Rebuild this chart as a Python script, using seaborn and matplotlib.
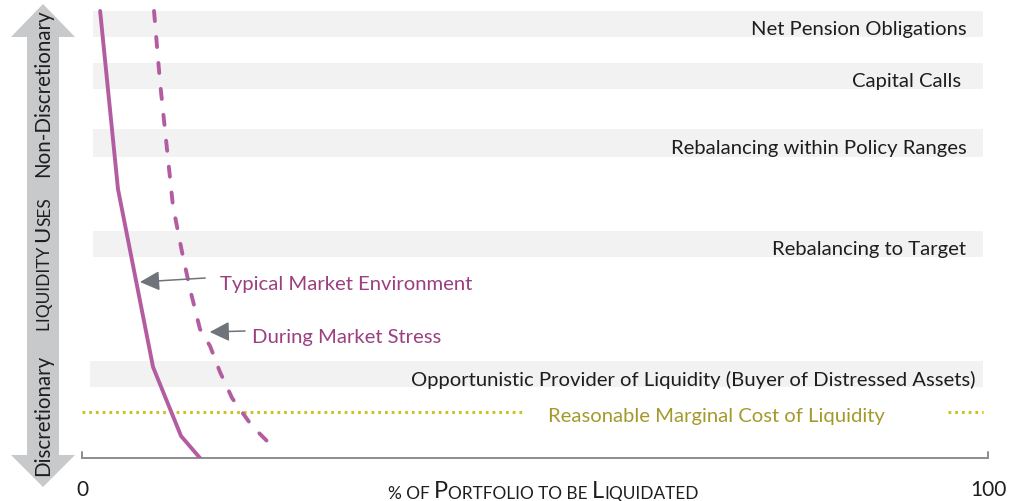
import numpy as np
import pandas as pd
import seaborn as sns
from matplotlib import pyplot as plt
from matplotlib.patches import Polygon

# Curves: x = % of portfolio liquidated, y = liquidity use level (0 = axis)
typical_x = [2.0, 3.97, 7.84, 10.93, 13.02]
typical_y = [447, 269, 91, 22, 0]
stress_x = [7.95, 8.61, 9.38, 10.04, 11.04, 11.92, 13.02, 14.13, 15.23, 16.56, 18.76, 20.97]
stress_y = [447, 376, 309, 252, 206, 169, 129, 112, 86, 60, 32, 12]

# Liquidity uses (grey bands)
band_labels = [
    "Net Pension Obligations",
    "Capital Calls ",
    "Rebalancing within Policy Ranges",
    "Rebalancing to Target",
    "Opportunistic Provider of Liquidity (Buyer of Distressed Assets)",
]
band_low = [421, 369, 301, 201, 71]
band_high = [447, 395, 329, 227, 97]

cost_level = 46
cost_label = "Reasonable Marginal Cost of Liquidity"

x_ticks = [0, 100]

LINE = "#b35da0"
NOTE = "#9b3f80"
GREY_ARROW = "#6e7479"
YELLOW = "#cbc323"
OLIVE = "#a49a2c"
TXT = "#1e1e1e"
FS = 14.6

sns.set_theme(style="white")
plt.rcParams["font.family"] = ["Lato", "DejaVu Sans"]

W, H = 1014, 502
fig = plt.figure(figsize=(W / 100, H / 100), dpi=100)
ax = fig.add_axes([82 / W, (H - 459) / H, 906 / W, 459 / H])
ax.set_xlim(0, 100)
ax.set_ylim(0, 459)
ax.axis("off")

# grey bands + labels
for i, (lab, lo, hi) in enumerate(zip(band_labels, band_low, band_high)):
    x0 = 0.9 if i == len(band_labels) - 1 else 1.2
    ax.fill_between([x0, 99.45], lo, hi, color="#f2f2f2", lw=0, zorder=0)
    ax.text(97.6 if i != 4 else 98.6, (lo + hi) / 2 - 5, lab, ha="right", va="center",
            fontsize=FS, color=TXT)

# marginal cost line (dotted, broken around the label)
ax.plot([0, 48.9], [cost_level, cost_level], color=YELLOW, lw=2.2,
        linestyle=(0, (0.9, 1.3)), zorder=1)
ax.plot([95.6, 99.4], [cost_level, cost_level], color=YELLOW, lw=2.2,
        linestyle=(0, (0.9, 1.3)), zorder=1)
ax.text(70.0, cost_level - 4, cost_label, ha="center", va="center", fontsize=FS, color=OLIVE)

# curves
curves = pd.concat([
    pd.DataFrame({"pct": typical_x, "use": typical_y, "env": "Typical Market Environment"}),
    pd.DataFrame({"pct": stress_x, "use": stress_y, "env": "During Market Stress"}),
])
sns.lineplot(data=curves, x="pct", y="use", hue="env", style="env", sort=False,
             palette=[LINE, LINE], dashes=[(None, None), (2.6, 4.1)], lw=2.8,
             dash_capstyle="round", legend=False, ax=ax, estimator=None, zorder=3)

# callouts
arrow_kw = dict(arrowstyle="-|>,head_length=0.5,head_width=0.25", color=GREY_ARROW,
                lw=1.1, mutation_scale=24, shrinkA=0, shrinkB=0)
ax.annotate("", xy=(6.4, 176), xytext=(13.6, 180), arrowprops=arrow_kw)
ax.text(15.2, 174, "Typical Market Environment", ha="left", va="center", fontsize=FS, color=NOTE)
ax.annotate("", xy=(14.1, 126), xytext=(18.0, 127), arrowprops=arrow_kw)
ax.text(18.8, 121, "During Market Stress", ha="left", va="center", fontsize=FS, color=NOTE)

# x axis with end ticks
ax.plot([0, 100], [0, 0], color="#8c8c8c", lw=1.4, clip_on=False, zorder=2)
for t in x_ticks:
    ax.plot([t, t], [0, 6], color="#8c8c8c", lw=1.4, clip_on=False, zorder=2)
    ax.text(t, -31, str(t), ha="center", va="center", fontsize=15, color=TXT)


def caps_chain(parts, start, rotation=0):
    """Draw (text, size) pieces one after another, faking small caps."""
    prev = None
    for s, size in parts:
        if prev is None:
            if rotation:
                prev = fig.text(start[0] / W, start[1] / H, s, rotation=90, ha="right",
                                va="bottom", fontsize=size, color=TXT)
            else:
                prev = fig.text(start[0] / W, start[1] / H, s, ha="left",
                                va="bottom", fontsize=size, color=TXT)
        else:
            xy = (1, 1) if rotation else (1, 0)
            ha = "right" if rotation else "left"
            prev = ax.annotate(s, xy=xy, xycoords=prev, ha=ha, va="bottom",
                               rotation=rotation, fontsize=size, color=TXT,
                               annotation_clip=False)


caps_chain([("% OF ", 12.4), ("P", 17), ("ORTFOLIO TO BE ", 12.4), ("L", 17), ("IQUIDATED", 12.4)],
           (388, 0))

# double-headed grey arrow on the left (behind everything)
pts = [(43, 5), (75, 38), (59, 38), (59, 456), (75, 456), (43, 488), (11, 456),
       (27, 456), (27, 38), (11, 38)]
fig.patches.append(Polygon([(x / W, 1 - y / H) for x, y in pts], closed=True,
                           transform=fig.transFigure, color="#c8c9cb", lw=0, zorder=-1))
fig.text(43 / W, 1 - 93 / H, "Non-Discretionary", rotation=90, ha="center", va="center",
         fontsize=14.8, color=TXT)
fig.text(43 / W, 1 - 415 / H, "Discretionary", rotation=90, ha="center", va="center",
         fontsize=14.8, color=TXT)
caps_chain([("LIQUIDITY ", 12.5), ("U", 16), ("SES", 12.5)], (53, H - 331), rotation=90)

fig.savefig("out.png", dpi=100)
